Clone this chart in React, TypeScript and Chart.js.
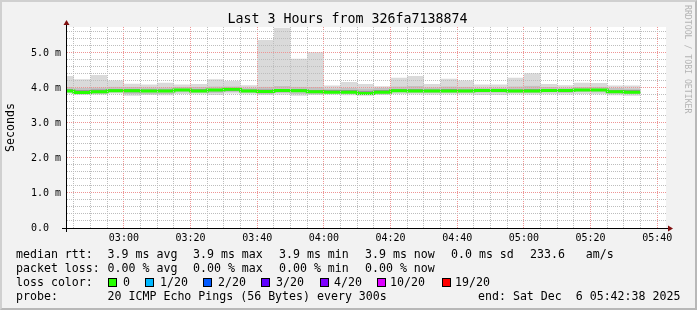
import React, { useEffect, useRef } from 'react';
import { Chart, registerables } from 'chart.js';

Chart.register(...registerables);

// ---------------- data ----------------
const graphTitle = 'Last 3 Hours from 326fa7138874';
const yAxisTitle = 'Seconds';
const sideText = 'RRDTOOL / TOBI OETIKER';

const startTime = '02:42:38';
const endTime = '05:42:38';
const yMax = 5.74;
const xMinorStepMin = 5;
const yMinorStep = 0.2;

// 5-minute bins (start time of each bin)
const binStarts = [
  '02:40', '02:45', '02:50', '02:55',
  '03:00', '03:05', '03:10', '03:15', '03:20', '03:25', '03:30', '03:35', '03:40', '03:45', '03:50', '03:55',
  '04:00', '04:05', '04:10', '04:15', '04:20', '04:25', '04:30', '04:35', '04:40', '04:45', '04:50', '04:55',
  '05:00', '05:05', '05:10', '05:15', '05:20', '05:25', '05:30',
];
const lastBinEnd = '05:35';

const xTickLabels = ['03:00', '03:20', '03:40', '04:00', '04:20', '04:40', '05:00', '05:20', '05:40'];
const yTickLabels = ['0.0  ', '1.0 m', '2.0 m', '3.0 m', '4.0 m', '5.0 m'];

// ping smoke percentiles per bin (ms)
const pingMax = [4.34, 4.25, 4.37, 4.21, 4.12, 4.10, 4.15, 4.10, 4.11, 4.25, 4.20, 4.08, 5.37, 5.72, 4.83, 5.02, 4.07, 4.17, 4.11, 4.05, 4.29, 4.34, 4.11, 4.26, 4.21, 4.10, 4.10, 4.29, 4.42, 4.11, 4.08, 4.15, 4.14, 4.07, 4.07];
const pingP90 = [4.03, 4.01, 4.02, 4.04, 4.03, 4.02, 4.02, 4.03, 4.03, 4.05, 4.05, 4.01, 4.04, 4.06, 4.04, 4.03, 3.99, 4.01, 3.99, 4.01, 4.05, 4.06, 4.02, 4.05, 4.04, 4.01, 4.01, 4.05, 4.07, 4.03, 4.01, 4.03, 4.04, 4.00, 3.99];
const pingP75 = [3.97, 3.95, 3.96, 3.97, 3.98, 3.96, 3.96, 3.98, 3.97, 3.98, 4.00, 3.96, 3.96, 3.98, 3.97, 3.95, 3.94, 3.95, 3.93, 3.95, 3.98, 3.97, 3.96, 3.97, 3.96, 3.97, 3.97, 3.96, 3.97, 3.97, 3.97, 3.98, 3.98, 3.95, 3.94];
const pingMedian = [3.91, 3.87, 3.89, 3.92, 3.92, 3.91, 3.91, 3.94, 3.91, 3.94, 3.96, 3.91, 3.90, 3.93, 3.92, 3.89, 3.88, 3.88, 3.84, 3.88, 3.92, 3.91, 3.91, 3.91, 3.91, 3.93, 3.93, 3.91, 3.91, 3.93, 3.93, 3.94, 3.94, 3.89, 3.88];
const pingP25 = [3.88, 3.85, 3.86, 3.88, 3.86, 3.87, 3.87, 3.90, 3.88, 3.89, 3.91, 3.88, 3.87, 3.89, 3.87, 3.86, 3.86, 3.85, 3.82, 3.85, 3.88, 3.88, 3.87, 3.88, 3.88, 3.88, 3.88, 3.88, 3.87, 3.89, 3.89, 3.90, 3.90, 3.85, 3.84];
const pingP10 = [3.86, 3.82, 3.83, 3.86, 3.81, 3.83, 3.82, 3.86, 3.85, 3.84, 3.87, 3.85, 3.83, 3.85, 3.82, 3.83, 3.84, 3.82, 3.80, 3.83, 3.86, 3.85, 3.84, 3.85, 3.85, 3.84, 3.84, 3.85, 3.84, 3.86, 3.85, 3.87, 3.86, 3.82, 3.81];
const pingMin = [3.84, 3.80, 3.81, 3.84, 3.78, 3.80, 3.79, 3.83, 3.82, 3.80, 3.84, 3.82, 3.80, 3.81, 3.78, 3.80, 3.81, 3.79, 3.78, 3.80, 3.83, 3.82, 3.81, 3.82, 3.82, 3.80, 3.80, 3.82, 3.81, 3.82, 3.81, 3.83, 3.82, 3.79, 3.78];

// legend texts
const rttLabel = 'median rtt:';
const rttItems = ['3.9 ms avg', '3.9 ms max', '3.9 ms min', '3.9 ms now', '0.0 ms sd', '233.6   am/s'];
const lossLabel = 'packet loss:';
const lossItems = ['0.00 % avg', '0.00 % max', '0.00 % min', '0.00 % now'];
const colorLabel = 'loss color:';
const lossLabels = ['0', '1/20', '2/20', '3/20', '4/20', '10/20', '19/20'];
const lossColors = ['#26ff00', '#00b8ff', '#0059ff', '#5e00ff', '#7e00ff', '#dd00ff', '#ff0000'];
const probeLabel = 'probe:';
const probeText = '20 ICMP Echo Pings (56 Bytes) every 300s';
const endText = 'end: Sat Dec  6 05:42:38 2025';

// ---------------- layout / style ----------------
const W = 697;
const H = 310;
const MONO = "'DejaVu Sans Mono', monospace";
const rttX = [107.6, 193, 279, 365, 451, 530];
const boxX = [108, 145, 203, 261, 320, 377, 442];
const boxTextX = [123, 160, 218, 276, 334, 390, 455];
const rowTop = [247, 261, 275, 289];
const SMOKE_LIGHT = '#dadada';
const SMOKE_MID = '#c2c2c2';
const SMOKE_DARK = '#969696';
const GRID_MINOR = '#bdbdbd';
const GRID_MAJOR = '#ee9494';
const ARROW = '#801010';

const toMin = (s: string) => {
  const p = s.split(':').map(Number);
  return p[0] * 60 + p[1] + (p[2] || 0) / 60;
};
const fmt = (m: number) => {
  const h = Math.floor(m / 60);
  const mm = Math.round(m - h * 60);
  return String(h).padStart(2, '0') + ':' + String(mm).padStart(2, '0');
};
const steps = (arr: number[]) => [
  ...binStarts.map((t, i) => ({ x: toMin(t), y: arr[i] })),
  { x: toMin(lastBinEnd), y: arr[arr.length - 1] },
];
const isMajorY = (v: number) => Math.abs(v - Math.round(v)) < 1e-6;

const xMin = toMin(startTime);
const xMax = toMin(endTime);
const xGrid: number[] = [];
for (let m = Math.ceil(xMin / xMinorStepMin) * xMinorStepMin; m <= xMax; m += xMinorStepMin) xGrid.push(m);
const yGrid: number[] = [];
for (let k = 0; k * yMinorStep <= yMax + 1e-9; k++) yGrid.push(Math.round(k * yMinorStep * 10) / 10);

const decorPlugin = {
  id: 'rrdDecor',
  beforeDraw(chart: any) {
    const { ctx, chartArea: a } = chart;
    ctx.save();
    ctx.fillStyle = '#ffffff';
    ctx.fillRect(a.left, a.top, a.right - a.left, a.bottom - a.top);
    ctx.restore();
  },
  afterDraw(chart: any) {
    const { ctx, chartArea: a } = chart;
    const x0 = Math.round(a.left) + 0.5;
    const y0 = Math.round(a.bottom) + 0.5;
    ctx.save();
    ctx.strokeStyle = '#000';
    ctx.lineWidth = 1;
    ctx.beginPath();
    ctx.moveTo(a.left - 4, y0);
    ctx.lineTo(a.right + 4, y0);
    ctx.moveTo(x0, a.bottom + 4);
    ctx.lineTo(x0, a.top - 4);
    ctx.stroke();
    ctx.fillStyle = ARROW;
    ctx.beginPath();
    ctx.moveTo(a.right + 2, y0 - 3);
    ctx.lineTo(a.right + 2, y0 + 3);
    ctx.lineTo(a.right + 7, y0);
    ctx.closePath();
    ctx.fill();
    ctx.beginPath();
    ctx.moveTo(x0 - 3, a.top - 2);
    ctx.lineTo(x0 + 3, a.top - 2);
    ctx.lineTo(x0, a.top - 7);
    ctx.closePath();
    ctx.fill();
    ctx.restore();
  },
};

export default function App() {
  const ref = useRef<HTMLCanvasElement>(null);

  useEffect(() => {
    document.body.style.margin = '0';
    const band = (arr: number[], color: string | false) => ({
      data: steps(arr),
      stepped: 'before' as const,
      borderWidth: 0,
      pointRadius: 0,
      backgroundColor: color || 'transparent',
      fill: color ? '-1' : false,
      order: 1,
      clip: 0,
    });
    const chart = new Chart(ref.current as HTMLCanvasElement, {
      type: 'line',
      data: {
        datasets: [
          band(pingMin, false),
          band(pingP10, SMOKE_LIGHT),
          band(pingP25, SMOKE_MID),
          band(pingP75, SMOKE_DARK),
          band(pingP90, SMOKE_MID),
          band(pingMax, SMOKE_LIGHT),
          {
            data: steps(pingMedian),
            stepped: 'before',
            borderColor: lossColors[0],
            borderWidth: 3,
            borderCapStyle: 'butt',
            borderJoinStyle: 'miter',
            pointRadius: 0,
            fill: false,
            order: 0,
            clip: 0,
          },
        ] as any,
      },
      options: {
        responsive: false,
        animation: false,
        devicePixelRatio: 1,
        events: [],
        layout: { padding: { left: 0, top: 27, right: 31, bottom: 62 } },
        plugins: {
          legend: { display: false },
          tooltip: { enabled: false },
          title: { display: false },
        },
        scales: {
          x: {
            type: 'linear',
            min: xMin,
            max: xMax,
            bounds: 'data',
            afterBuildTicks: (s: any) => {
              s.ticks = xGrid.map((v) => ({ value: v }));
            },
            afterFit: (s: any) => {
              s.height = 20;
            },
            ticks: {
              autoSkip: false,
              maxRotation: 0,
              minRotation: 0,
              padding: 1,
              color: '#000',
              font: { family: MONO, size: 10 },
              callback: (v: any) => {
                const l = fmt(Number(v));
                return xTickLabels.includes(l) && Number(v) % 20 === 0 ? l : '';
              },
            },
            grid: {
              z: 1,
              lineWidth: 1,
              color: (c: any) => (c.tick && c.tick.value % 20 === 0 ? GRID_MAJOR : GRID_MINOR),
              drawTicks: true,
              tickLength: 3,
              tickColor: 'transparent',
            },
            border: { display: true, color: '#000', width: 1, dash: [1, 1], z: 2 },
          },
          y: {
            type: 'linear',
            min: 0,
            max: yMax,
            bounds: 'data',
            afterBuildTicks: (s: any) => {
              s.ticks = yGrid.map((v) => ({ value: v }));
            },
            afterFit: (s: any) => {
              s.width = 66;
            },
            ticks: {
              autoSkip: false,
              padding: 2,
              color: '#000',
              font: { family: MONO, size: 10 },
              callback: (v: any) => {
                const n = Number(v);
                return isMajorY(n) ? yTickLabels[Math.round(n)] || '' : '';
              },
            },
            title: {
              display: true,
              text: yAxisTitle,
              color: '#000',
              font: { family: MONO, size: 11.6 },
              padding: { top: 4, bottom: 0 },
            },
            grid: {
              z: 1,
              lineWidth: 1,
              color: (c: any) => (c.tick && isMajorY(c.tick.value) ? GRID_MAJOR : GRID_MINOR),
              drawTicks: true,
              tickLength: 3,
              tickColor: 'transparent',
            },
            border: { display: true, color: '#000', width: 1, dash: [1, 1], z: 2 },
          },
        },
      } as any,
      plugins: [decorPlugin],
    });
    return () => chart.destroy();
  }, []);

  const txt = (left: number, top: number, s: string, key: string) => (
    <div key={key} style={{ position: 'absolute', left, top, whiteSpace: 'pre', lineHeight: '14px', fontSize: 11.6 }}>
      {s}
    </div>
  );

  return (
    <div
      style={{
        position: 'absolute',
        left: 0,
        top: 0,
        width: W,
        height: H,
        background: '#f2f2f2',
        overflow: 'hidden',
        fontFamily: MONO,
        color: '#000',
      }}
    >
      <canvas ref={ref} width={W} height={H} style={{ position: 'absolute', left: 0, top: 0, width: W, height: H }} />
      <div
        style={{
          position: 'absolute',
          left: 0,
          top: 11,
          width: W - 2,
          textAlign: 'center',
          fontSize: 13.3,
          lineHeight: '16px',
          whiteSpace: 'pre',
        }}
      >
        {graphTitle}
      </div>
      <div
        style={{
          position: 'absolute',
          left: 683,
          top: 5,
          writingMode: 'vertical-rl',
          fontSize: 8.2,
          lineHeight: '10px',
          color: '#b4b4b4',
          whiteSpace: 'pre',
        }}
      >
        {sideText}
      </div>
      {txt(16, rowTop[0], rttLabel, 'r0')}
      {rttItems.map((s, i) => txt(rttX[i], rowTop[0], s, 'r' + (i + 1)))}
      {txt(16, rowTop[1], lossLabel, 'l0')}
      {lossItems.map((s, i) => txt(rttX[i], rowTop[1], s, 'l' + (i + 1)))}
      {txt(16, rowTop[2], colorLabel, 'c0')}
      {lossLabels.map((s, i) => (
        <React.Fragment key={'b' + i}>
          <div
            style={{
              position: 'absolute',
              left: boxX[i],
              top: 278,
              width: 9,
              height: 9,
              boxSizing: 'border-box',
              border: '1px solid #000',
              background: lossColors[i],
            }}
          />
          {txt(boxTextX[i], rowTop[2], s, 'bt' + i)}
        </React.Fragment>
      ))}
      {txt(16, rowTop[3], probeLabel, 'p0')}
      {txt(rttX[0], rowTop[3], probeText, 'p1')}
      {txt(478, rowTop[3], endText, 'p2')}
      <div
        style={{
          position: 'absolute',
          left: 0,
          top: 0,
          width: W,
          height: H,
          boxSizing: 'border-box',
          borderTop: '2px solid #d0d0d0',
          borderLeft: '2px solid #d0d0d0',
          borderRight: '2px solid #b8b8b8',
          borderBottom: '2px solid #b8b8b8',
          pointerEvents: 'none',
        }}
      />
    </div>
  );
}
